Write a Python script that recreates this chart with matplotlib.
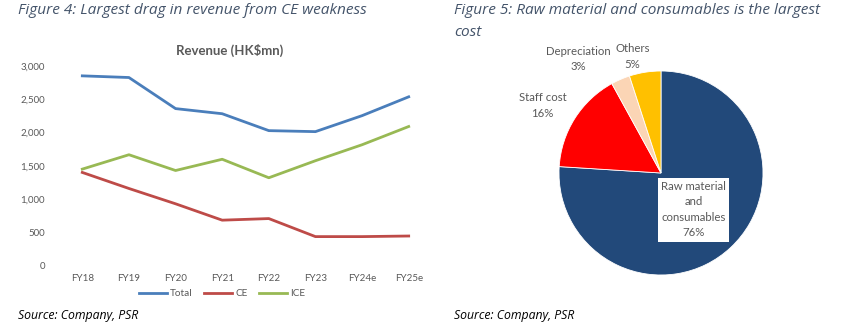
import matplotlib
matplotlib.use("Agg")
import matplotlib.pyplot as plt

plt.rcParams['font.family'] = ['Lato', 'DejaVu Sans']

# Revenue by segment (HK$mn)
years = ["FY18", "FY19", "FY20", "FY21", "FY22", "FY23", "FY24e", "FY25e"]
total = [2852, 2827, 2360, 2283, 2029, 2014, 2254, 2537]
ce = [1401, 1160, 930, 684, 708, 437, 437, 446]
ice = [1451, 1667, 1430, 1599, 1321, 1577, 1817, 2091]
y_ticks = [0, 500, 1000, 1500, 2000, 2500, 3000]

# Cost breakdown
cost_items = ["Raw material\nand\nconsumables", "Staff cost", "Depreciation", "Others"]
cost_share = [76, 16, 3, 5]
cost_colors = ["#22497A", "#FF0000", "#FBD5B5", "#FFC000"]

W, H = 858, 333
fig = plt.figure(figsize=(W / 100, H / 100), dpi=100)

title_color = "#44546A"
title_kw = dict(fontsize=11.1, style="italic", color=title_color, va="center", ha="left",
                family=["Open Sans", "DejaVu Sans"])
fig.text(18 / W, 1 - 11 / H, "Figure 4: Largest drag in revenue from CE weakness", **title_kw)
fig.text(454 / W, 1 - 11 / H, "Figure 5: Raw material and consumables is the largest", **title_kw)
fig.text(454 / W, 1 - 32 / H, "cost", **title_kw)
for xs in (18, 454):
    fig.text(xs / W, 1 - 315 / H, "Source: Company, PSR", fontsize=8.8, style="italic",
             color="black", va="center", ha="left", family=["Open Sans", "DejaVu Sans"])

# ---- line chart ----
ax = fig.add_axes([59 / W, 1 - 265.7 / H, (432 - 59) / W, (265.7 - 66) / H])
x = range(len(years))
ax.plot(x, total, color="#4A7EBB", lw=2, label="Total")
ax.plot(x, ce, color="#BE4B48", lw=2, label="CE")
ax.plot(x, ice, color="#98B954", lw=2, label="ICE")
ax.set_xlim(-0.5, len(years) - 0.5)
ax.set_ylim(0, 3000)
ax.set_yticks(y_ticks)
ax.set_yticklabels([f"{v:,}" for v in y_ticks])
ax.set_xticks(list(x))
ax.set_xticklabels(years)
for s in ax.spines.values():
    s.set_visible(False)
ax.tick_params(axis="both", length=0, labelsize=7, labelcolor="#595959")
ax.tick_params(axis="y", pad=10)
ax.tick_params(axis="x", pad=6)
fig.text(230 / W, 1 - 50 / H, "Revenue (HK$mn)", fontsize=9.5, fontweight="bold",
         color="#595959", ha="center", va="center")
leg = fig.legend(*ax.get_legend_handles_labels(), loc="center",
                 bbox_to_anchor=(222 / W, 1 - 294 / H), ncol=3, frameon=False,
                 fontsize=7.2, handlelength=2.8, handletextpad=0.3, columnspacing=1.2)
for t in leg.get_texts():
    t.set_color("#595959")

# ---- pie chart ----
r = 102
cx, cy = 661, 173
pax = fig.add_axes([(cx - r) / W, 1 - (cy + r) / H, 2 * r / W, 2 * r / H])
pax.pie(cost_share, colors=cost_colors, startangle=90, counterclock=False,
        wedgeprops=dict(linewidth=0.6, edgecolor="white"))
pax.set_xlim(-1, 1)
pax.set_ylim(-1, 1)
pax.set_aspect("auto")
pax.axis("off")

label_pos = [(0.32, -0.36), (-1.16, 0.66), (-0.81, 1.12), (-0.28, 1.14)]
for name, share, (lx, ly), i in zip(cost_items, cost_share, label_pos, range(4)):
    kw = dict(fontsize=8.2, color="#595959", ha="center", va="center", linespacing=1.5)
    if i == 0:
        kw["bbox"] = dict(boxstyle="square,pad=0.3", facecolor="white", edgecolor="none")
    pax.text(lx, ly, f"{name}\n{share}%", clip_on=False, **kw)

fig.savefig("out.png", dpi=100)
